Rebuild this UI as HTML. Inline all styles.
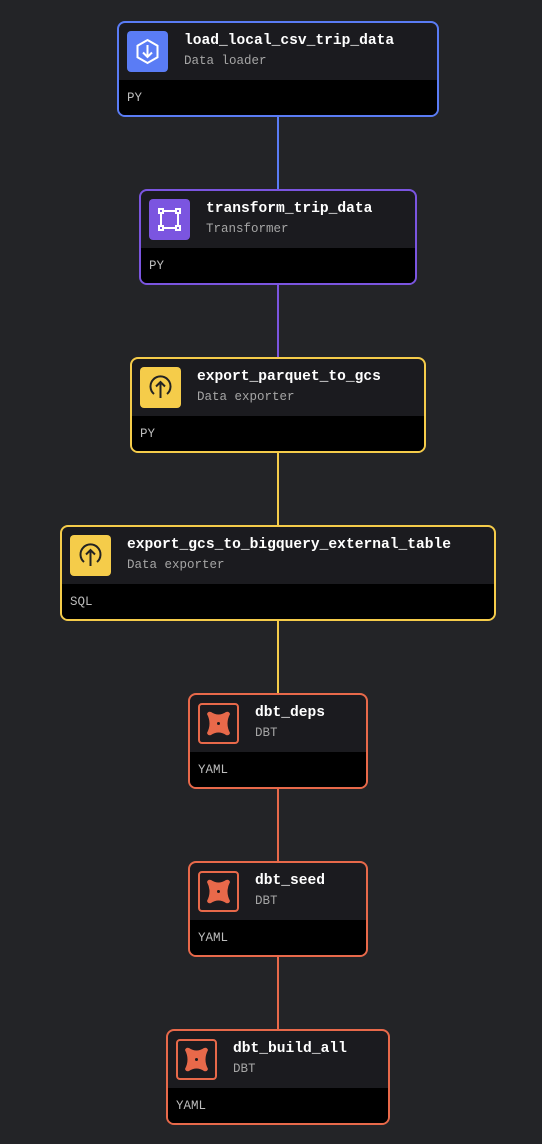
<!DOCTYPE html>
<html><head><style>
body{margin:0;width:542px;height:1144px;background:#232427;position:relative;overflow:hidden;font-family:"Liberation Mono",monospace}
.n{position:absolute;box-sizing:border-box;border:2px solid;border-radius:8px;background:#1b1b1f;overflow:hidden;height:96px}
.f{position:absolute;left:0;right:0;top:57px;bottom:0;background:#000;color:#bdbdbd;font-size:12.5px;padding:10px 0 0 8px;line-height:16px}
.ic{position:absolute;left:8px;top:8px;width:41px;height:41px;border-radius:4px;box-sizing:border-box}
.t{position:absolute;left:65px;top:9px;color:#fff;font-weight:bold;font-size:14.6px;line-height:18px;white-space:nowrap}
.s{position:absolute;left:65px;top:30px;color:#a5a5a5;font-size:12.5px;line-height:16px;white-space:nowrap}
.l{position:absolute;left:277px;width:2px}
</style></head><body>
<div class="l" style="top:116px;height:74px;background:#5a7cf5"></div>
<div class="l" style="top:284px;height:74px;background:#7b55e0"></div>
<div class="l" style="top:452px;height:74px;background:#f5cc4a"></div>
<div class="l" style="top:620px;height:74px;background:#f5cc4a"></div>
<div class="l" style="top:788px;height:74px;background:#e8694a"></div>
<div class="l" style="top:956px;height:74px;background:#e8694a"></div>

<div class="n" style="left:117px;top:21px;width:322px;border-color:#5a7cf5">
<div class="ic" style="background:#5a7cf5"><svg width="41" height="41" viewBox="0 0 41 41" fill="none" stroke="#fff" stroke-width="2"><path d="M20.5 9 L30.5 14.75 V26.25 L20.5 32 L10.5 26.25 V14.75 Z"/><path d="M20.5 14v12M16 21.5l4.5 4.5 4.5-4.5"/></svg></div>
<div class="t">load_local_csv_trip_data</div><div class="s">Data loader</div><div class="f">PY</div></div>

<div class="n" style="left:139px;top:189px;width:278px;border-color:#7b55e0">
<div class="ic" style="background:#7b55e0"><svg width="41" height="41" viewBox="0 0 41 41" fill="none" stroke="#fff" stroke-width="2"><rect x="12" y="12" width="17" height="17"/><rect x="10" y="10" width="4" height="4" fill="#7b55e0"/><rect x="27" y="10" width="4" height="4" fill="#7b55e0"/><rect x="10" y="27" width="4" height="4" fill="#7b55e0"/><rect x="27" y="27" width="4" height="4" fill="#7b55e0"/></svg></div>
<div class="t">transform_trip_data</div><div class="s">Transformer</div><div class="f">PY</div></div>

<div class="n" style="left:130px;top:357px;width:296px;border-color:#f5cc4a">
<div class="ic" style="background:#f5cc4a"><svg width="41" height="41" viewBox="0 0 41 41" fill="none" stroke="#222" stroke-width="2"><path d="M14 27 A10 10 0 1 1 27 27"/><path d="M20.5 31V15M16 19.5l4.5-4.5 4.5 4.5"/></svg></div>
<div class="t">export_parquet_to_gcs</div><div class="s">Data exporter</div><div class="f">PY</div></div>

<div class="n" style="left:60px;top:525px;width:436px;border-color:#f5cc4a">
<div class="ic" style="background:#f5cc4a"><svg width="41" height="41" viewBox="0 0 41 41" fill="none" stroke="#222" stroke-width="2"><path d="M14 27 A10 10 0 1 1 27 27"/><path d="M20.5 31V15M16 19.5l4.5-4.5 4.5 4.5"/></svg></div>
<div class="t">export_gcs_to_bigquery_external_table</div><div class="s">Data exporter</div><div class="f">SQL</div></div>

<div class="n" style="left:188px;top:693px;width:180px;border-color:#e8694a">
<div class="ic" style="border:2px solid #e8694a"><svg width="37" height="37" viewBox="0 0 37 37"><path d="M7 9 Q8 6 11 7 Q18.5 12 26 7 Q29 6 30 9 Q25 18.5 30 28 Q29 31 26 30 Q18.5 25 11 30 Q8 31 7 28 Q12 18.5 7 9Z" fill="#e8694a"/><circle cx="18.5" cy="18.5" r="1.5" fill="#1b1b1f"/></svg></div>
<div class="t">dbt_deps</div><div class="s">DBT</div><div class="f">YAML</div></div>

<div class="n" style="left:188px;top:861px;width:180px;border-color:#e8694a">
<div class="ic" style="border:2px solid #e8694a"><svg width="37" height="37" viewBox="0 0 37 37"><path d="M7 9 Q8 6 11 7 Q18.5 12 26 7 Q29 6 30 9 Q25 18.5 30 28 Q29 31 26 30 Q18.5 25 11 30 Q8 31 7 28 Q12 18.5 7 9Z" fill="#e8694a"/><circle cx="18.5" cy="18.5" r="1.5" fill="#1b1b1f"/></svg></div>
<div class="t">dbt_seed</div><div class="s">DBT</div><div class="f">YAML</div></div>

<div class="n" style="left:166px;top:1029px;width:224px;border-color:#e8694a">
<div class="ic" style="border:2px solid #e8694a"><svg width="37" height="37" viewBox="0 0 37 37"><path d="M7 9 Q8 6 11 7 Q18.5 12 26 7 Q29 6 30 9 Q25 18.5 30 28 Q29 31 26 30 Q18.5 25 11 30 Q8 31 7 28 Q12 18.5 7 9Z" fill="#e8694a"/><circle cx="18.5" cy="18.5" r="1.5" fill="#1b1b1f"/></svg></div>
<div class="t">dbt_build_all</div><div class="s">DBT</div><div class="f">YAML</div></div>
</body></html>
